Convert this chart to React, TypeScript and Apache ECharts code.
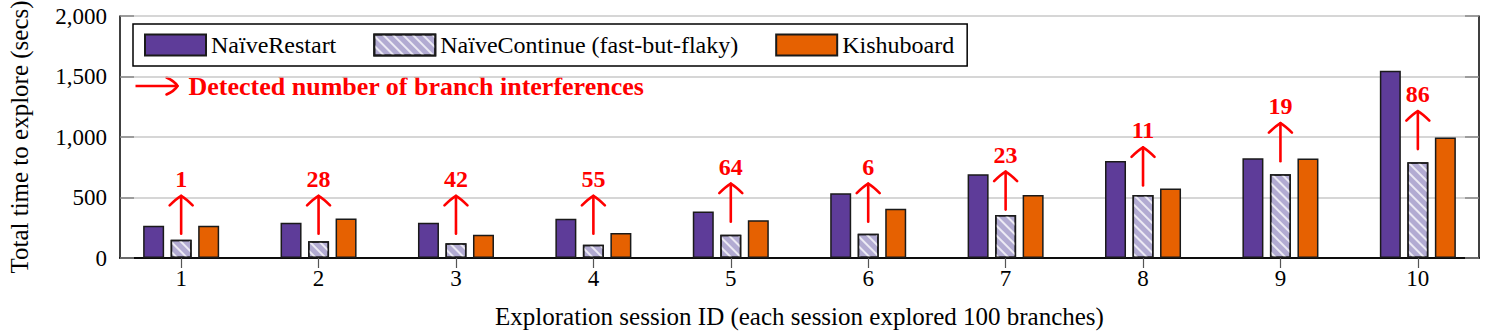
import React, { useEffect, useRef } from "react";
import * as echarts from "echarts";

const sessions = [1, 2, 3, 4, 5, 6, 7, 8, 9, 10];
const naiveRestart = [266, 291, 291, 324, 385, 536, 693, 802, 825, 1548];
const naiveContinue = [150, 138, 121, 110, 192, 200, 355, 520, 693, 792];
const kishuboard = [266, 327, 192, 206, 313, 407, 520, 575, 822, 995];
const interferences = [1, 28, 42, 55, 64, 6, 23, 11, 19, 86];
const arrowBase = [200, 200, 200, 200, 300, 300, 400, 600, 800, 900];
const yTicks = [0, 500, 1000, 1500, 2000];

const FONT = '"Liberation Serif", "Times New Roman", serif';
const RED = "#ff0000";
const X_MIN = 0.555;
const X_MAX = 10.445;

export default function App() {
  const ref = useRef<HTMLDivElement>(null);
  useEffect(() => {
    document.body.style.margin = "0";
    if (!ref.current) return;
    const chart = echarts.init(ref.current, null, { renderer: "svg" });
    const barBorder = { borderColor: "#1a1a1a", borderWidth: 1.5 };
    const option: any = {
      animation: false,
      textStyle: { fontFamily: FONT },
      grid: { left: 120, right: 16, top: 16, bottom: 78, containLabel: false, outerBoundsMode: "none" },
      legend: {
        data: ["NaïveRestart", "NaïveContinue (fast-but-flaky)", "Kishuboard"],
        left: 133,
        top: 24,
        orient: "horizontal",
        icon: "rect",
        itemWidth: 61,
        itemHeight: 21,
        itemGap: 37,
        padding: [9, 13, 9, 11],
        borderColor: "#000",
        borderWidth: 1.5,
        borderRadius: 0,
        backgroundColor: "#fff",
        textStyle: { fontFamily: FONT, fontSize: 24, color: "#000" },
      },
      xAxis: [
        {
          type: "value",
          position: "bottom",
          min: X_MIN,
          max: X_MAX,
          name: "Exploration session ID (each session explored 100 branches)",
          nameLocation: "middle",
          nameGap: 46,
          nameTextStyle: { fontFamily: FONT, fontSize: 25, color: "#000" },
          axisLine: { show: true, lineStyle: { color: "#000", width: 1.5 } },
          axisTick: { show: true, inside: true, length: 10, customValues: sessions, lineStyle: { color: "#555", width: 1.2 } },
          axisLabel: { customValues: sessions, fontFamily: FONT, fontSize: 23, color: "#000", margin: 9 },
          splitLine: { show: false },
        },
        {
          type: "value",
          position: "top",
          min: X_MIN,
          max: X_MAX,
          axisLine: { show: true, lineStyle: { color: "#000", width: 1.5 } },
          axisTick: { show: true, inside: true, length: 10, customValues: sessions, lineStyle: { color: "#555", width: 1.2 } },
          axisLabel: { show: false },
          splitLine: { show: false },
        },
      ],
      yAxis: [
        {
          type: "value",
          min: 0,
          max: 2000,
          interval: 500,
          name: "Total time to explore (secs)",
          nameLocation: "middle",
          nameGap: 88,
          nameTextStyle: { fontFamily: FONT, fontSize: 25, color: "#000" },
          axisLine: { show: true, lineStyle: { color: "#000", width: 1.5 } },
          axisTick: { show: true, inside: true, length: 14, customValues: yTicks, lineStyle: { color: "#888", width: 1.5 } },
          axisLabel: {
            fontFamily: FONT,
            fontSize: 23,
            color: "#000",
            margin: 13,
            formatter: (v: number) => v.toLocaleString("en-US"),
          },
          splitLine: { show: true, lineStyle: { color: "#c8c8c8", width: 1.5 } },
        },
        {
          type: "value",
          position: "right",
          min: 0,
          max: 2000,
          interval: 500,
          axisLine: { show: true, lineStyle: { color: "#000", width: 1.5 } },
          axisTick: { show: true, inside: true, length: 14, lineStyle: { color: "#888", width: 1.5 } },
          axisLabel: { show: false },
          splitLine: { show: false },
        },
      ],
      series: [
        {
          name: "NaïveRestart",
          type: "bar",
          barWidth: 21,
          barGap: "31%",
          data: sessions.map((s, i) => [s, naiveRestart[i]]),
          itemStyle: { color: "#5e3c99", ...barBorder },
        },
        {
          name: "NaïveContinue (fast-but-flaky)",
          type: "bar",
          barWidth: 21,
          barGap: "31%",
          data: sessions.map((s, i) => [s, naiveContinue[i]]),
          itemStyle: {
            color: "#b2abd2",
            ...barBorder,
            decal: {
              symbol: "rect",
              symbolSize: 1,
              color: "rgba(255,255,255,0.75)",
              dashArrayX: [1, 0],
              dashArrayY: [2, 5],
              rotation: Math.PI / 4,
            },
          },
        },
        {
          name: "Kishuboard",
          type: "bar",
          barWidth: 21,
          barGap: "31%",
          data: sessions.map((s, i) => [s, kishuboard[i]]),
          itemStyle: { color: "#e66101", ...barBorder },
        },
        {
          name: "interferences",
          type: "custom",
          data: sessions.map((s, i) => [s, arrowBase[i], interferences[i]]),
          encode: { x: 0, y: 1 },
          z: 10,
          renderItem: (params: any, api: any) => {
            const p = api.coord([api.value(0), api.value(1)]);
            const x = p[0];
            const yb = p[1];
            const yt = yb - 38;
            const ls = { stroke: RED, lineWidth: 2.6, fill: "none", lineCap: "round" };
            return {
              type: "group",
              children: [
                { type: "line", shape: { x1: x, y1: yb, x2: x, y2: yt + 1 }, style: ls },
                { type: "bezierCurve", shape: { x1: x, y1: yt, cpx1: x - 5, cpy1: yt + 3, x2: x - 11.5, y2: yt + 9.5 }, style: ls },
                { type: "bezierCurve", shape: { x1: x, y1: yt, cpx1: x + 5, cpy1: yt + 3, x2: x + 11.5, y2: yt + 9.5 }, style: ls },
                {
                  type: "text",
                  style: {
                    text: String(api.value(2)),
                    x: x,
                    y: yt - 17,
                    fill: RED,
                    fontFamily: FONT,
                    fontWeight: "bold",
                    fontSize: 24,
                    align: "center",
                    verticalAlign: "middle",
                  },
                },
              ],
            };
          },
        },
      ],
      graphic: [
        {
          type: "group",
          left: 133,
          top: 73,
          children: [
            { type: "line", shape: { x1: 0, y1: 11, x2: 41, y2: 11 }, style: { stroke: RED, lineWidth: 2.6 } },
            { type: "bezierCurve", shape: { x1: 42, y1: 11, cpx1: 39, cpy1: 6, x2: 31, y2: 2.5 }, style: { stroke: RED, lineWidth: 2.6, fill: "none", lineCap: "round" } },
            { type: "bezierCurve", shape: { x1: 42, y1: 11, cpx1: 39, cpy1: 16, x2: 31, y2: 19.5 }, style: { stroke: RED, lineWidth: 2.6, fill: "none", lineCap: "round" } },
            {
              type: "text",
              x: 53,
              y: 11,
              style: {
                text: "Detected number of branch interferences",
                fill: RED,
                fontFamily: FONT,
                fontWeight: "bold",
                fontSize: 26,
                verticalAlign: "middle",
              },
            },
          ],
        },
      ],
    };
    chart.setOption(option);
    return () => chart.dispose();
  }, []);
  return <div ref={ref} style={{ width: 1495, height: 336 }} />;
}
